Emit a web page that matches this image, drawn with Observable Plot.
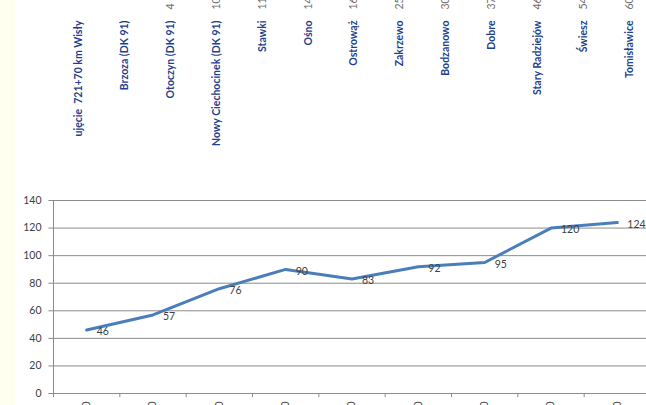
<!DOCTYPE html>
<html><head><meta charset="utf-8">
<script src="https://cdn.jsdelivr.net/npm/d3@7"></script>
<script src="https://cdn.jsdelivr.net/npm/@observablehq/plot@0.6"></script>
<style>
html,body{margin:0;padding:0;background:#fff;}
#wrap{position:relative;width:646px;height:405px;overflow:hidden;background:#fff;}
#strip{position:absolute;left:0;top:0;width:15px;height:405px;background:#fffff0;}
#head,#chart{position:absolute;left:0;}
#head{top:0;} #chart{top:180px;}
svg{display:block;background:transparent;}
</style></head>
<body><div id="wrap"><div id="strip"></div><div id="head"></div><div id="chart"></div></div>
<script>
// header table (stations and km)
const stations = ["ujęcie  721+70 km Wisły","Brzoza (DK 91)","Otoczyn (DK 91)","Nowy Ciechocinek (DK 91)","Stawki","Ośno","Ostrowąż","Zakrzewo","Bodzanowo","Dobre","Stary Radziejów","Świesz","Tomisławice"];
const kms = ["","","4","10","11","14","16","25","30","37","46","54","60"];
// line series
const points = ["1","2","3","4","5","6","7","8","9"];
const values = [46,57,76,90,83,92,95,120,124];
const xTickLabels = ["0","0","0","0","0","0","0","0","0"];
const yTicks = [0,20,40,60,80,100,120,140];

const font = "Lato, 'Open Sans', sans-serif";
const headRows = stations.map((s,i)=>({s, km: kms[i]}));

const head = Plot.plot({
  width: 646, height: 180, marginTop: 20, marginBottom: 0, marginLeft: 0, marginRight: 0,
  style: {fontFamily: font, background: "transparent"},
  x: {type: "band", domain: stations, range: [51, 648], padding: 0, round: false, axis: null},
  marks: [
    Plot.text(headRows, {x: "s", text: "s", frameAnchor: "top", rotate: -90, textAnchor: "end",
      fill: "#1f3f8f", fontWeight: "bold", fontSize: 10.5}),
    Plot.text(headRows, {x: "s", text: "km", frameAnchor: "top", rotate: -90, textAnchor: "start",
      dy: -11, fill: "#6f6f6f", fontSize: 10.5})
  ]
});
document.getElementById("head").appendChild(head);

const rows = points.map((p,i)=>({i: i+0.5, v: values[i], t: xTickLabels[i]}));
const bounds = d3.range(0, points.length+1);

const chart = Plot.plot({
  width: 646, height: 225, marginTop: 20, marginBottom: 12, marginLeft: 53, marginRight: -4,
  style: {fontFamily: font, background: "transparent"},
  x: {domain: [0, points.length], axis: null},
  y: {domain: [0, 140], axis: null},
  marks: [
    Plot.ruleY(yTicks, {stroke: "#8c8c8c", strokeWidth: 1}),
    Plot.ruleX([0], {stroke: "#8c8c8c"}),
    Plot.ruleY(yTicks, {x1: 0, x2: -0.07, stroke: "#8c8c8c"}),
    Plot.ruleX(bounds, {y1: 0, y2: -3, stroke: "#8c8c8c"}),
    Plot.text(yTicks, {x: 0, y: d=>d, text: d=>String(d), textAnchor: "end", dx: -12, fill: "#404040", fontSize: 10.5}),
    Plot.line(rows, {x: "i", y: "v", stroke: "#4a7ebb", strokeWidth: 3}),
    Plot.text(rows, {x: "i", y: "v", text: d=>String(d.v), textAnchor: "start", dx: 10, dy: 2, fill: "#404040", fontSize: 10.5}),
    Plot.text(rows, {x: "i", y: 0, text: "t", rotate: -90, textAnchor: "end", dy: 8, fill: "#404040", fontSize: 10.5})
  ]
});
document.getElementById("chart").appendChild(chart);
</script></body></html>
